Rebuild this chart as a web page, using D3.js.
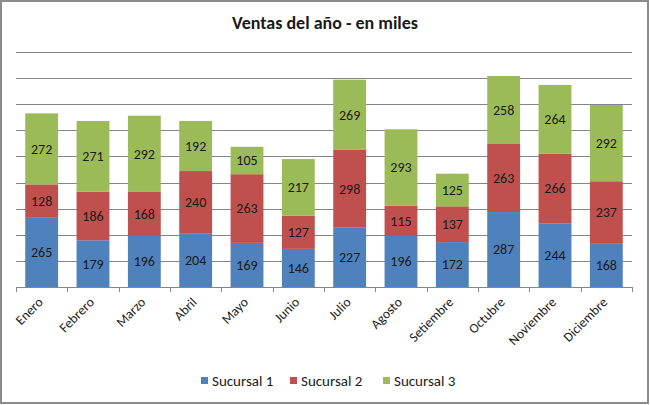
<!DOCTYPE html>
<html>
<head>
<meta charset="utf-8">
<title>Ventas del año</title>
<script src="https://d3js.org/d3.v7.min.js"></script>
<style>
body { margin:0; background:#fff; }
svg { font-family: Carlito, Calibri, "Open Sans", sans-serif; }
</style>
</head>
<body>
<svg id="chart" width="650" height="405"></svg>
<script>
// datos
var meses = ["Enero","Febrero","Marzo","Abril","Mayo","Junio","Julio","Agosto","Setiembre","Octubre","Noviembre","Diciembre"];
var sucursal1 = [265,179,196,204,169,146,227,196,172,287,244,168];
var sucursal2 = [128,186,168,240,263,127,298,115,137,263,266,237];
var sucursal3 = [272,271,292,192,105,217,269,293,125,258,264,292];
var series = ["Sucursal 1","Sucursal 2","Sucursal 3"];
var colores = ["#4F81BD","#C0504D","#9BBB59"];
var yTicks = [0,100,200,300,400,500,600,700,800,900];

var svg = d3.select("#chart");
var W = 650, H = 405;
var m = {left:16, right:18, top:52, bottom:118};

// marco
svg.append("rect").attr("x",1).attr("y",1).attr("width",W-3).attr("height",H-3)
  .attr("fill","#fff").attr("stroke","#8c8c8c").attr("stroke-width",2);

var x = d3.scaleBand().domain(meses).range([m.left, W-m.right]).paddingInner(0.36).paddingOuter(0.18);
var y = d3.scaleLinear().domain([0,900]).range([H-m.bottom, m.top]);

// lineas de cuadricula
svg.append("g").selectAll("line").data(yTicks.slice(1)).join("line")
  .attr("x1",m.left).attr("x2",W-m.right)
  .attr("y1",d=>Math.round(y(d))+0.5).attr("y2",d=>Math.round(y(d))+0.5)
  .attr("stroke","#868686").attr("stroke-width",1);

var tabla = meses.map(function(mes,i){
  return {mes:mes, "Sucursal 1":sucursal1[i], "Sucursal 2":sucursal2[i], "Sucursal 3":sucursal3[i]};
});
var pila = d3.stack().keys(series)(tabla);

var capas = svg.append("g").selectAll("g").data(pila).join("g")
  .attr("fill",(d,i)=>colores[i]);
capas.selectAll("rect").data(d=>d).join("rect")
  .attr("x",d=>x(d.data.mes))
  .attr("width",x.bandwidth())
  .attr("y",d=>y(d[1]))
  .attr("height",d=>y(d[0])-y(d[1]));

// etiquetas de datos
capas.selectAll("text").data(d=>d).join("text")
  .attr("x",d=>x(d.data.mes)+x.bandwidth()/2)
  .attr("y",d=>(y(d[0])+y(d[1]))/2)
  .attr("dy","0.35em")
  .attr("text-anchor","middle")
  .attr("fill","#1a1a1a")
  .style("font-size","14px")
  .text(d=>d[1]-d[0]);

// eje x
var xAxis = d3.axisBottom(x).tickSize(0).tickPadding(0);
var gx = svg.append("g").attr("transform","translate(0,"+y(0)+")").call(xAxis);
gx.select(".domain").attr("stroke","#868686").attr("d","M"+m.left+",0.5H"+(W-m.right));
gx.selectAll(".tick text")
  .attr("fill","#1a1a1a")
  .attr("x",0).attr("y",0).attr("dy",null)
  .style("font-size","13.5px")
  .style("font-family","Carlito, Calibri, 'Open Sans', sans-serif")
  .attr("text-anchor","end")
  .attr("transform","translate(2,16) rotate(-45)");
// marcas entre categorias
var limites = d3.range(meses.length+1).map(i=>m.left + i*(W-m.left-m.right)/meses.length);
svg.append("g").selectAll("line").data(limites).join("line")
  .attr("x1",d=>Math.round(d)+0.5).attr("x2",d=>Math.round(d)+0.5)
  .attr("y1",y(0)).attr("y2",y(0)+5)
  .attr("stroke","#868686");

// titulo
svg.append("text").attr("x",325).attr("y",29).attr("text-anchor","middle")
  .style("font-size","18px").style("font-weight","bold").attr("fill","#1a1a1a")
  .text("Ventas del año - en miles");

// leyenda
var leyX = [201,290,383];
var ley = svg.append("g").selectAll("g").data(series).join("g")
  .attr("transform",(d,i)=>"translate("+leyX[i]+",381)");
ley.append("rect").attr("x",0).attr("y",-4).attr("width",7).attr("height",7).attr("fill",(d,i)=>colores[i]);
ley.append("text").attr("x",11).attr("y",0).attr("dy","0.35em")
  .style("font-size","15px").attr("fill","#1a1a1a").text(d=>d);
</script>
</body>
</html>
